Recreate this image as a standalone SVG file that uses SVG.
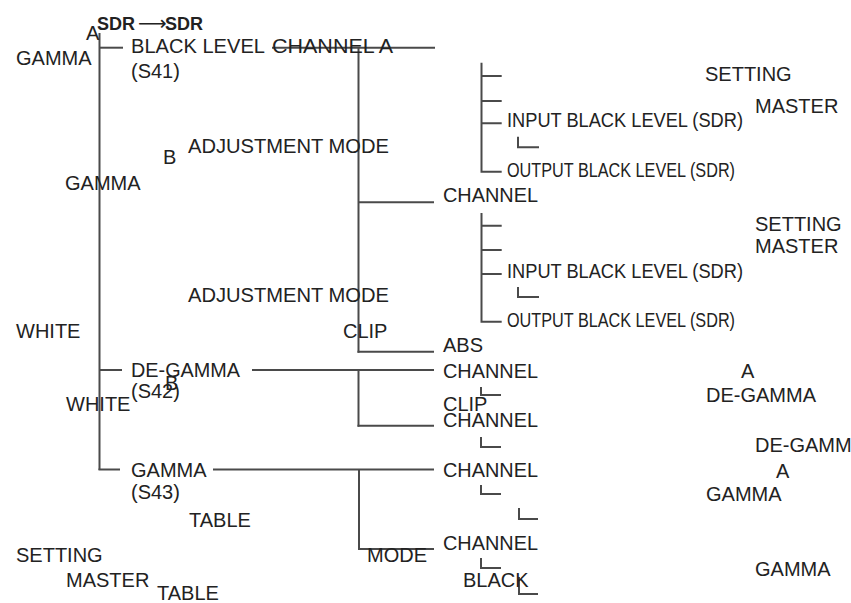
<svg xmlns="http://www.w3.org/2000/svg" width="851" height="603" viewBox="0 0 851 603">
<style>
text{font-family:"Liberation Sans",Arial,sans-serif;font-size:20px;fill:#222}
.b{font-weight:bold;font-size:18px}
.c{font-size:21px}
line,path{stroke:#4a4a4a;stroke-width:2;fill:none}
</style>
<rect width="851" height="603" fill="#fff"/>
<g id="connectors">
<line x1="99.5" y1="33" x2="99.5" y2="470"/>
<line x1="98.5" y1="469.5" x2="120" y2="469.5"/>
<line x1="99.5" y1="47.7" x2="123" y2="47.7"/>
<line x1="272" y1="47.7" x2="435" y2="47.7"/>
<line x1="358.5" y1="47.7" x2="358.5" y2="352.7"/>
<line x1="358.5" y1="202.3" x2="434" y2="202.3"/>
<line x1="357.5" y1="351.7" x2="434" y2="351.7"/>
<line x1="99.5" y1="370" x2="122" y2="370"/>
<line x1="252" y1="370" x2="434" y2="370"/>
<line x1="358.5" y1="370" x2="358.5" y2="426.7"/>
<line x1="357.5" y1="425.7" x2="434" y2="425.7"/>
<line x1="213" y1="469.5" x2="434" y2="469.5"/>
<line x1="359" y1="469.5" x2="359" y2="550"/>
<line x1="358" y1="549" x2="434" y2="549"/>
<path d="M481.5 62.7V171.7H501.7M481.5 76H501.7M481.5 101H501.7M481.5 123.3H501.7"/>
<path d="M518 136.7V147.3H539"/>
<path d="M481.5 213V321.7H501.7M481.5 225.7H501.7M481.5 250H501.7M481.5 274H501.7"/>
<path d="M518 287V297H539"/>
<path d="M481 387V395H501"/>
<path d="M481 437V447H501"/>
<path d="M481 485V494H501"/>
<path d="M519 508V519H538"/>
<path d="M481 558V568H501"/>
<path d="M519 577V594H538"/>
</g>
<g id="n-sdr"><text class="b" x="97" y="30">SDR<tspan x="138" font-family="'DejaVu Sans',sans-serif" font-weight="normal" font-size="20">⟶</tspan><tspan x="165">SDR</tspan></text></g>
<g id="n-a1"><text x="86" y="40">A</text></g>
<g id="n-gamma1"><text x="16" y="65">GAMMA</text></g>
<g id="n-blacklevel"><text x="131" y="53" textLength="134" lengthAdjust="spacingAndGlyphs">BLACK LEVEL</text><text x="131" y="78">(S41)</text></g>
<g id="n-channel-a"><text x="272" y="53" textLength="121" lengthAdjust="spacingAndGlyphs">CHANNEL A</text></g>
<g id="n-b1"><text x="163" y="164">B</text></g>
<g id="n-adj1"><text x="188" y="153" textLength="201" lengthAdjust="spacingAndGlyphs">ADJUSTMENT MODE</text></g>
<g id="n-gamma2"><text x="65" y="190">GAMMA</text></g>
<g id="n-channel1"><text x="443" y="202" textLength="95" lengthAdjust="spacingAndGlyphs">CHANNEL</text></g>
<g id="n-setting1"><text x="705" y="81">SETTING</text><text x="755" y="113">MASTER</text></g>
<g id="n-input1"><text class="c" x="507" y="127" textLength="236" lengthAdjust="spacingAndGlyphs">INPUT BLACK LEVEL (SDR)</text></g>
<g id="n-output1"><text x="507" y="177" textLength="228" lengthAdjust="spacingAndGlyphs">OUTPUT BLACK LEVEL (SDR)</text></g>
<g id="n-setting2"><text x="755" y="231">SETTING</text><text x="755" y="253">MASTER</text></g>
<g id="n-input2"><text class="c" x="507" y="278" textLength="236" lengthAdjust="spacingAndGlyphs">INPUT BLACK LEVEL (SDR)</text></g>
<g id="n-output2"><text x="507" y="327" textLength="228" lengthAdjust="spacingAndGlyphs">OUTPUT BLACK LEVEL (SDR)</text></g>
<g id="n-adj2"><text x="188" y="302" textLength="201" lengthAdjust="spacingAndGlyphs">ADJUSTMENT MODE</text></g>
<g id="n-white1"><text x="16" y="338">WHITE</text></g>
<g id="n-clip1"><text x="343" y="338">CLIP</text></g>
<g id="n-abs"><text x="443" y="352">ABS</text></g>
<g id="n-degamma"><text x="131" y="377" textLength="109" lengthAdjust="spacingAndGlyphs">DE-GAMMA</text><text x="131" y="398">(S42)</text></g>
<g id="n-b2"><text x="165" y="390">B</text></g>
<g id="n-white2"><text x="66" y="411">WHITE</text></g>
<g id="n-channel2"><text x="443" y="378" textLength="95" lengthAdjust="spacingAndGlyphs">CHANNEL</text></g>
<g id="n-clip2"><text x="443" y="411">CLIP</text></g>
<g id="n-channel3"><text x="443" y="427" textLength="95" lengthAdjust="spacingAndGlyphs">CHANNEL</text></g>
<g id="n-a2"><text x="741" y="378">A</text></g>
<g id="n-degamma-r1"><text x="706" y="402" textLength="110" lengthAdjust="spacingAndGlyphs">DE-GAMMA</text></g>
<g id="n-degamma-r2"><text x="755" y="452" textLength="110" lengthAdjust="spacingAndGlyphs">DE-GAMMA</text></g>
<g id="n-gamma3"><text x="131" y="477">GAMMA</text><text x="131" y="499">(S43)</text></g>
<g id="n-channel4"><text x="443" y="477" textLength="95" lengthAdjust="spacingAndGlyphs">CHANNEL</text></g>
<g id="n-a3"><text x="776" y="478">A</text></g>
<g id="n-gamma-r1"><text x="706" y="501">GAMMA</text></g>
<g id="n-table1"><text x="189" y="527">TABLE</text></g>
<g id="n-channel5"><text x="443" y="550" textLength="95" lengthAdjust="spacingAndGlyphs">CHANNEL</text></g>
<g id="n-mode"><text x="367" y="562">MODE</text></g>
<g id="n-setting3"><text x="16" y="562">SETTING</text><text x="66" y="587">MASTER</text></g>
<g id="n-gamma-r2"><text x="755" y="576">GAMMA</text></g>
<g id="n-black"><text x="463" y="587">BLACK</text></g>
<g id="n-table2"><text x="157" y="600">TABLE</text></g>
</svg>
